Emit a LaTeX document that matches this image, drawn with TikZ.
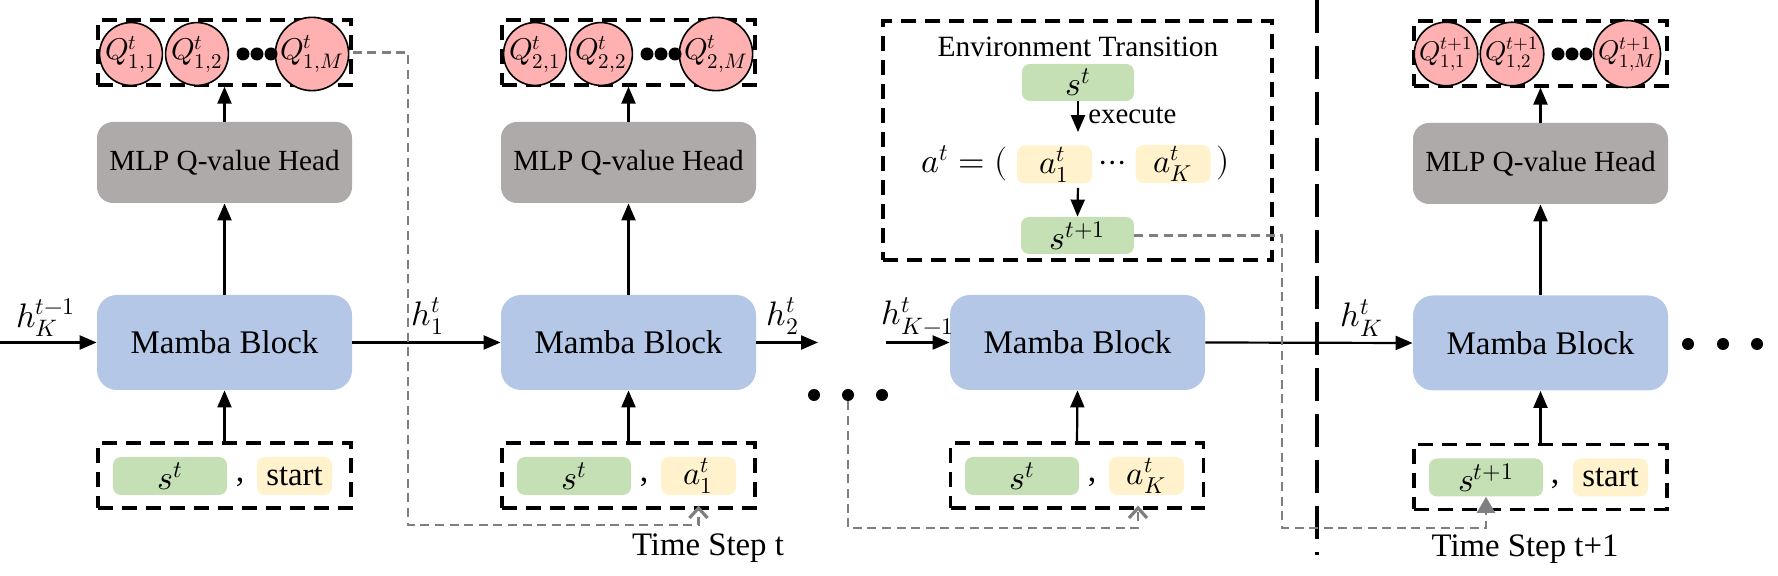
\documentclass[tikz,border=0pt]{standalone}
\usepackage{fontspec}
\usepackage{unicode-math}
\setmainfont{Liberation Serif}
\usetikzlibrary{arrows.meta,calc}
\definecolor{mambablue}{HTML}{B4C7E7}
\definecolor{mlpgray}{HTML}{AEAAAA}
\definecolor{qpink}{HTML}{FFB0B0}
\definecolor{sgreen}{HTML}{C5E0B4}
\definecolor{ayellow}{HTML}{FFF2CC}
\definecolor{dgray}{HTML}{7F7F7F}
\tikzset{
  mamba/.style={fill=mambablue, rounded corners=10pt, minimum width=127.5pt, minimum height=47.5pt, inner sep=0pt, font=\fontsize{16.5}{18}\selectfont},
  mlp/.style={fill=mlpgray, rounded corners=8pt, minimum width=127.5pt, minimum height=40.5pt, inner sep=0pt, font=\fontsize{14.6}{16}\selectfont},
  dbox/.style={draw, line width=1.6pt, dash pattern=on 7.5pt off 4.5pt, minimum width=126.5pt, minimum height=32.5pt, inner sep=0pt},
  qc/.style={circle, draw, line width=0.8pt, fill=qpink, minimum size=29pt, inner sep=0pt, font=\fontsize{15}{15}\selectfont},
  gbox/.style={fill=sgreen, rounded corners=4pt, minimum width=57pt, minimum height=19pt, inner sep=0pt, font=\fontsize{17}{17}\selectfont},
  ybox/.style={fill=ayellow, rounded corners=4pt, minimum width=37.5pt, minimum height=19pt, inner sep=0pt, font=\fontsize{16.4}{17}\selectfont},
  arr/.style={line width=1.1pt, -{Triangle[length=8.5pt,width=7pt]}},
  gdash/.style={draw=dgray, line width=1.3pt, dash pattern=on 4.5pt off 2.8pt},
  bigdot/.style={circle, fill, minimum size=6.5pt, inner sep=0pt},
  lbl/.style={inner sep=0pt, font=\fontsize{17}{17}\selectfont},
  divider/.style={line width=2pt, dash pattern=on 16.5pt off 6.5pt},
  barb/.style={-{Straight Barb[length=5pt,width=9pt,line width=1.6pt]}},
}
\begin{document}
\begin{tikzpicture}[x=0.5pt,y=-0.5pt]
\useasboundingbox (0,0) rectangle (1778,576);

% ---------- column 1 ----------
\node[dbox] (qb1) at (224.5,52.5) {};
\node[qc] (q11) at (131,54) {$Q^{t}_{1,1}$};
\node[qc] (q12) at (197,54) {$Q^{t}_{1,2}$};
\node[qc] (q1m) at (312,54) {$Q^{t}_{1,M}$};
\node[bigdot] (d1a) at (243,54) {};
\node[bigdot] (d1b) at (257,54) {};
\node[bigdot] (d1c) at (271,54) {};
\node[mlp] (mlp1) at (224.5,162.5) {MLP Q-value Head};
\node[mamba] (mb1) at (224.5,342.5) {Mamba Block};
\node[dbox] (in1) at (224.5,475.5) {};
\node[gbox] (s1) at (170,476) {$s^{t}$};
\node[lbl] (c1) at (240,482) {,};
\node[ybox] (y1) at (294.5,476) {start};

% ---------- column 2 ----------
\node[dbox] (qb2) at (628.5,52.5) {};
\node[qc] (q21) at (535,54) {$Q^{t}_{2,1}$};
\node[qc] (q22) at (601,54) {$Q^{t}_{2,2}$};
\node[qc] (q2m) at (716,54) {$Q^{t}_{2,M}$};
\node[bigdot] (d2a) at (647,54) {};
\node[bigdot] (d2b) at (661,54) {};
\node[bigdot] (d2c) at (675,54) {};
\node[mlp] (mlp2) at (628.5,162.5) {MLP Q-value Head};
\node[mamba] (mb2) at (628.5,342.5) {Mamba Block};
\node[dbox] (in2) at (628.5,475.5) {};
\node[gbox] (s2) at (574,476) {$s^{t}$};
\node[lbl] (c2) at (644,482) {,};
\node[ybox] (y2) at (698.5,476) {$a^{t}_{1}$};

% ---------- column 3 ----------
\node[mamba] (mb3) at (1077.5,342.5) {Mamba Block};
\node[dbox] (in3) at (1077,475.5) {};
\node[gbox] (s3) at (1022,476) {$s^{t}$};
\node[lbl] (c3) at (1092,482) {,};
\node[ybox] (y3) at (1146.5,476) {$a^{t}_{K}$};

% ---------- column 4 ----------
\node[dbox] (qb4) at (1540.5,53.5) {};
\node[qc, font=\fontsize{13.5}{13.5}\selectfont] (q41) at (1446,54) {$Q^{t+1}_{1,1}$};
\node[qc, font=\fontsize{13.5}{13.5}\selectfont] (q42) at (1512,54) {$Q^{t+1}_{1,2}$};
\node[qc, font=\fontsize{13.5}{13.5}\selectfont] (q4m) at (1627,54) {$Q^{t+1}_{1,M}$};
\node[bigdot] (d4a) at (1558,54) {};
\node[bigdot] (d4b) at (1572,54) {};
\node[bigdot] (d4c) at (1586,54) {};
\node[mlp] (mlp4) at (1540.5,163.5) {MLP Q-value Head};
\node[mamba] (mb4) at (1540.5,343) {Mamba Block};
\node[dbox] (in4) at (1540.5,477) {};
\node[gbox] (s4) at (1486,477.5) {$s^{t+1}$};
\node[lbl] (c4) at (1555,484) {,};
\node[ybox] (y4) at (1610.5,477.5) {start};

% ---------- vertical arrows ----------
\foreach \k in {1,2,4}{
  \draw[arr] (in\k.north) -- (mb\k.south);
  \draw[arr] (mb\k.north) -- (mlp\k.south);
  \draw[arr] (mlp\k.north) -- (qb\k.south);
}
\draw[arr] (in3.north) -- (mb3.south);

% ---------- horizontal hidden-state arrows ----------
\coordinate (h0) at (0,342.5);
\draw[arr] (h0) -- (mb1.west);
\node[lbl] (lh0) at (46,318) {$h_{K}^{t-1}$};
\draw[arr] (mb1.east) -- (mb2.west);
\node[lbl] (lh1) at (428,316) {$h_{1}^{t}$};
\coordinate (h2e) at (818,342.5);
\draw[arr] (mb2.east) -- (h2e);
\node[lbl] (lh2) at (783,316) {$h_{2}^{t}$};
\coordinate (h3s) at (886,342.5);
\draw[arr] (h3s) -- (mb3.west);
\node[lbl] (lh3) at (918,316) {$h_{K-1}^{t}$};
\draw[arr] (mb3.east) -- (mb4.west);
\node[lbl] (lh4) at (1362,318) {$h_{K}^{t}$};

% ---------- ellipsis dots ----------
\node[bigdot, minimum size=6pt] (md1) at (814,395) {};
\node[bigdot, minimum size=6pt] (md2) at (848,395) {};
\node[bigdot, minimum size=6pt] (md3) at (882,395) {};
\node[bigdot, minimum size=6pt] (rd1) at (1688,344) {};
\node[bigdot, minimum size=6pt] (rd2) at (1723,344) {};
\node[bigdot, minimum size=6pt] (rd3) at (1757,344) {};

% ---------- divider ----------
\coordinate (vt) at (1317,0);
\coordinate (vb) at (1317,555);
\draw[divider] (vt) -- (vb);

% ---------- environment transition ----------
\node[dbox, minimum width=194.5pt, minimum height=119.5pt] (env) at (1077.5,140.5) {};
\node[inner sep=0pt, font=\fontsize{14.7}{16}\selectfont] (envt) at (1078,47) {Environment Transition};
\node[gbox, minimum width=56pt, minimum height=18.5pt] (es) at (1078,82.5) {$s^{t}$};
\node[ybox] (ea1) at (1054.5,164.5) {$a^{t}_{1}$};
\node[ybox] (eak) at (1173,164) {$a^{t}_{K}$};
\node[lbl, anchor=east] (eat) at (1008,163) {$a^{t}=($};
\node[lbl] (edots) at (1113,166) {$\cdots$};
\node[lbl] (erp) at (1223,163) {$)$};
\node[gbox, minimum width=56.5pt, minimum height=18.5pt] (snx) at (1077.5,235.5) {$s^{t+1}$};
\draw[arr, shorten >=6.5pt] (es.south) -- (es.south |- ea1.north);
\node[inner sep=0pt, anchor=west, font=\fontsize{14.4}{16}\selectfont] (exe) at (1088,116) {execute};
\draw[arr, shorten <=2pt] (ea1.south -| es.south) -- (snx.north);

% ---------- gray dashed feedback lines ----------
\draw[gdash, barb] (qb1.east) -- (408,52.5) -- (408,525) -| ([yshift=2pt]y2.south |- in2.south);
\draw[gdash, barb] (md2) -- (848,528) -| ([xshift=-4.25pt,yshift=2pt]y3.south |- in3.south);
\draw[gdash, -{Triangle[length=8pt,width=9pt]}] (snx.east) -- (1282,235.5) -- (1282,528) -| (s4.south);

% ---------- time step labels ----------
\node[inner sep=0pt, font=\fontsize{16.4}{18}\selectfont] (ts1) at (708,548) {Time Step t};
\node[inner sep=0pt, font=\fontsize{16.4}{18}\selectfont] (ts2) at (1525,549) {Time Step t+1};
\end{tikzpicture}
\end{document}
